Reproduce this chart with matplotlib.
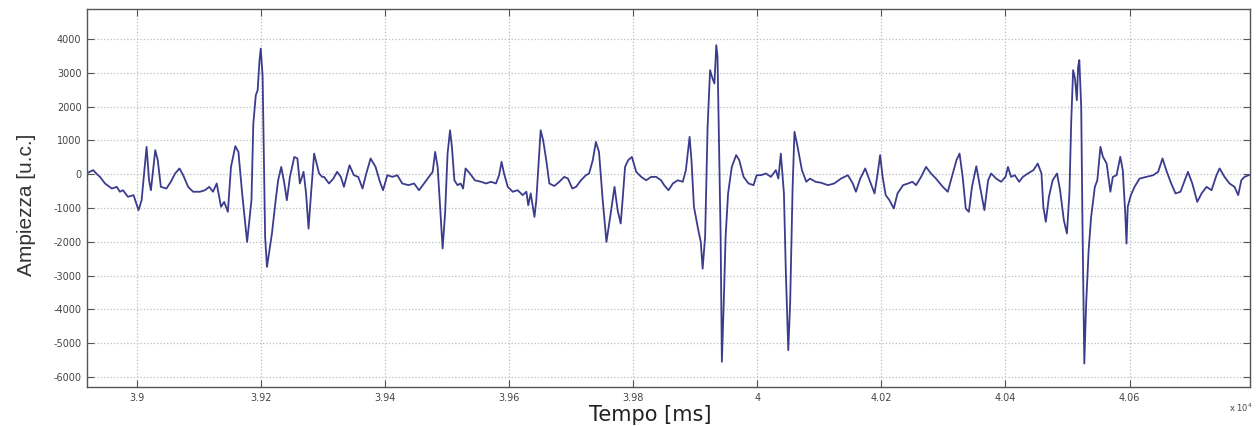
import matplotlib
matplotlib.use("Agg")
import matplotlib.pyplot as plt
from matplotlib.ticker import FuncFormatter, FixedLocator

plt.rcParams['axes.unicode_minus'] = False

# time in ms, amplitude in u.c.
time_ms = [
    38919, 38930, 38936, 38941, 38949, 38960, 38968, 38973, 38978, 38986, 38995, 39003, 39008, 39016, 39020,
    39023, 39030, 39034, 39039, 39048, 39055, 39062, 39069, 39075, 39083, 39091, 39102, 39110, 39117, 39123,
    39129, 39136, 39141, 39147, 39152, 39159, 39164, 39170, 39178, 39185, 39188, 39192, 39195, 39198, 39200,
    39203, 39205, 39207, 39210, 39214, 39218, 39224, 39228, 39233, 39238, 39242, 39247, 39254, 39259, 39263,
    39269, 39273, 39277, 39281, 39286, 39290, 39294, 39299,
    39302, 39310, 39317, 39323, 39329, 39334, 39343, 39350, 39357, 39364, 39370, 39377, 39385, 39392, 39397,
    39404, 39412, 39420, 39428, 39438, 39447, 39455, 39463, 39471, 39477, 39481, 39485, 39489, 39493, 39497,
    39501, 39505, 39508, 39512, 39517, 39522, 39526, 39530, 39537, 39545, 39555, 39563, 39571, 39579, 39584,
    39588, 39592, 39598, 39606, 39614, 39622, 39628, 39631, 39635, 39641, 39644, 39648, 39651, 39655, 39660,
    39665, 39673,
    39681, 39689, 39695, 39702, 39708, 39716, 39724, 39729, 39735, 39740, 39745, 39751, 39757, 39763, 39770,
    39775, 39780, 39783, 39787, 39792, 39798, 39805, 39813, 39821, 39829, 39837, 39845, 39850, 39857, 39864,
    39872, 39880, 39885, 39891, 39894, 39898, 39904, 39909, 39912, 39916, 39920, 39924, 39928, 39931, 39934,
    39936, 39938, 39941, 39943, 39946, 39949, 39953, 39959, 39966, 39971, 39978, 39986, 39994, 39999, 40006,
    40014, 40022, 40030, 40034, 40038, 40043, 40046, 40050, 40053, 40057, 40060,
    40065, 40072, 40079, 40085, 40094, 40103, 40114, 40124, 40135, 40146, 40154, 40159, 40166, 40174, 40181,
    40189, 40194, 40198, 40202, 40207, 40213, 40220, 40226, 40235, 40243, 40250, 40256, 40264, 40272, 40280,
    40288, 40299, 40307, 40315, 40321, 40326, 40331, 40336, 40341, 40346, 40353, 40359, 40366, 40372, 40377,
    40385, 40393, 40400, 40404, 40409, 40415, 40422, 40428, 40436,
    40445, 40452, 40458, 40461, 40465, 40470, 40476, 40483, 40488, 40494, 40499, 40503, 40506, 40509, 40512,
    40515, 40517, 40519, 40522, 40524, 40527, 40530, 40534, 40538, 40544, 40548, 40553, 40557, 40563, 40569,
    40573, 40579, 40585, 40589, 40593, 40595, 40597, 40602, 40608, 40616, 40627, 40638, 40646, 40653, 40659,
    40667, 40674, 40682, 40689, 40694, 40701, 40709, 40716, 40724, 40732, 40740, 40745, 40753, 40761, 40769,
    40775, 40780, 40785, 40792,
]

amplitude = [
    20, 120, 0, -80, -275, -425, -375, -520, -475, -670, -620, -1065, -770, 810, -180,
    -475, 710, 415, -375, -425, -225, 20, 170, -30, -375, -520, -520, -475, -375, -520,
    -275, -965, -820, -1115, 215, 830, 660, -570, -2005, -770, 1500, 2340, 2490, 3375, 3720,
    2880, 610, -1855, -2745, -2250, -1755, -770, -180, 215, -275, -770, -80, 510, 465, -275,
    70, -570, -1610, -570, 610, 315, 20, -80,
    -80, -275, -130, 70, -80, -375, 265, -30, -80, -425, 20, 465, 215, -225, -475,
    -30, -80, -30, -275, -325, -275, -475, -275, -80, 70, 660, 215, -965, -2200, -1165,
    610, 1300, 810, -180, -325, -275, -425, 170, 20, -180, -225, -275, -225, -275, -30,
    365, 20, -375, -520, -475, -620, -520, -920, -570, -1265, -770, 415, 1300, 1005, 415,
    -275, -350,
    -225, -80, -130, -425, -375, -180, -30, 20, 415, 955, 660, -770, -2005, -1265, -375,
    -1065, -1460, -770, 215, 415, 510, 70, -80, -180, -80, -80, -180, -325, -475, -275,
    -180, -225, 120, 1105, 415, -965, -1560, -2005, -2795, -1855, 1400, 3080, 2830, 2685, 3820,
    3475, 1400, -1855, -5555, -3830, -1855, -570, 215, 565, 415, -80, -275, -325, -30, -30,
    20, -80, 120, -130, 610, -570, -2845, -5210, -3830, -375, 1255,
    810, 120, -225, -130, -225, -255, -325, -275, -130, -30, -275, -520, -130, 170, -180,
    -570, 20, 565, -80, -620, -770, -1015, -570, -325, -275, -225, -325, -80, 215, 20,
    -130, -375, -520, 20, 415, 610, -80, -1015, -1115, -375, 235, -375, -1065, -180, 20,
    -130, -225, -80, 215, -80, -30, -225, -80, 20,
    120, 315, 20, -965, -1410, -670, -180, 20, -475, -1360, -1755, -570, 1600, 3080, 2830,
    2190, 3180, 3375, 1995, -1360, -5605, -3830, -2250, -1265, -375, -180, 810, 515, 315, -520,
    -80, -30, 515, 120, -1165, -2055, -965, -620, -375, -130, -80, -30, 70, 465, 120,
    -275, -570, -520, -180, 70, -275, -820, -570, -375, -475, -30, 170, -80, -275, -375,
    -620, -180, -80, -30,
]

x_ticks = [39000, 39200, 39400, 39600, 39800, 40000, 40200, 40400, 40600]
y_ticks = [-6000, -5000, -4000, -3000, -2000, -1000, 0, 1000, 2000, 3000, 4000]

fig = plt.figure(figsize=(12.56, 4.26), dpi=100)
ax = fig.add_axes([87 / 1256, 39 / 426, 1163 / 1256, 378 / 426])

ax.plot(time_ms, amplitude, color='#3c3c8e', linewidth=1.3)

ax.set_xlim(38920, 40794)
ax.set_ylim(-6300, 4890)
ax.xaxis.set_major_locator(FixedLocator(x_ticks))
ax.yaxis.set_major_locator(FixedLocator(y_ticks))
ax.xaxis.set_major_formatter(FuncFormatter(lambda v, p: f"{v / 1e4:g}"))
ax.yaxis.set_major_formatter(FuncFormatter(lambda v, p: f"{int(v)}"))

ax.grid(True, color='#bdbdbd', linestyle=':', linewidth=0.9)
ax.tick_params(direction='in', length=5, width=0.8, top=True, right=True,
               labelsize=7, labelcolor='#444444', color='#555555', pad=4)
for s in ax.spines.values():
    s.set_color('#555555')
    s.set_linewidth(1.0)

fig.text(26 / 1256, 1 - 205 / 426, 'Ampiezza [u.c.]', rotation=90, ha='center', va='center',
         fontsize=15, color='#333333', family=['Liberation Sans Narrow', 'Liberation Sans', 'DejaVu Sans'])
fig.text(650 / 1256, 1 - 421 / 426, 'Tempo [ms]', ha='center', va='baseline',
         fontsize=15, color='#222222', family=['DejaVu Sans'])
fig.text(1229 / 1256, 1 - 408 / 426, r'x 10$^4$', ha='left', va='center',
         fontsize=6, color='#444444')

fig.savefig('out.png', dpi=100, facecolor='white')
